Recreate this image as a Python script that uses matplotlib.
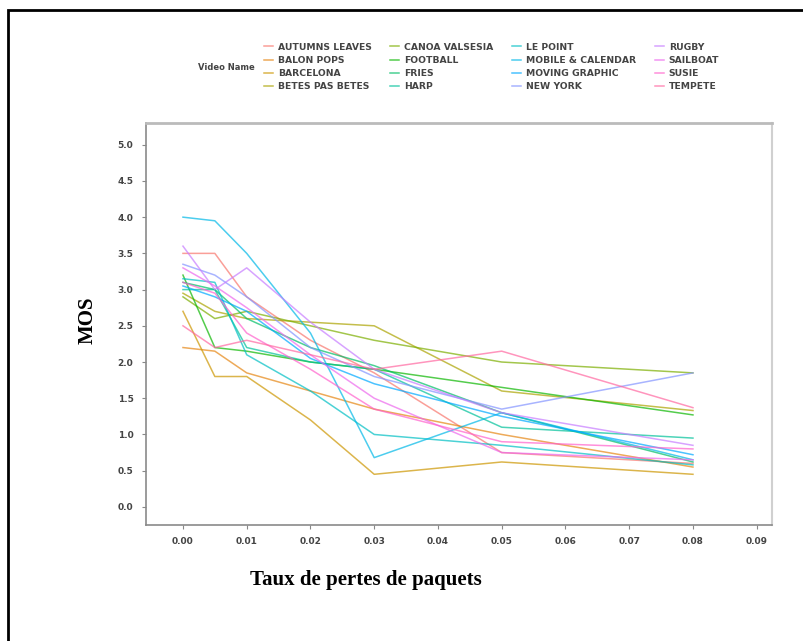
import numpy as np
import matplotlib
matplotlib.use("Agg")
import matplotlib.pyplot as plt
from matplotlib.patches import Rectangle

# packet loss rates where MOS was measured
loss = [0.0, 0.005, 0.01, 0.02, 0.03, 0.05, 0.08]

videos = [
    "AUTUMNS LEAVES", "BALON POPS", "BARCELONA", "BETES PAS BETES",
    "CANOA VALSESIA", "FOOTBALL", "FRIES", "HARP",
    "LE POINT", "MOBILE & CALENDAR", "MOVING GRAPHIC", "NEW YORK",
    "RUGBY", "SAILBOAT", "SUSIE", "TEMPETE",
]

mos_autumns = [3.50, 3.50, 2.90, 2.30, 1.85, 0.75, 0.60]
mos_balon = [2.20, 2.15, 1.85, 1.60, 1.35, 1.00, 0.55]
mos_barcelona = [2.70, 1.80, 1.80, 1.20, 0.45, 0.62, 0.45]
mos_betes = [2.95, 2.70, 2.60, 2.55, 2.50, 1.60, 1.33]
mos_canoa = [2.90, 2.60, 2.70, 2.50, 2.30, 2.00, 1.85]
mos_football = [3.20, 2.20, 2.15, 2.00, 1.90, 1.65, 1.27]
mos_fries = [3.10, 3.00, 2.60, 2.20, 1.95, 1.30, 0.62]
mos_harp = [3.00, 3.00, 2.20, 2.00, 1.90, 1.10, 0.95]
mos_lepoint = [3.15, 3.10, 2.10, 1.60, 1.00, 0.85, 0.58]
mos_mobile = [4.00, 3.95, 3.50, 2.40, 0.68, 1.30, 0.65]
mos_moving = [3.05, 2.90, 2.70, 2.05, 1.70, 1.25, 0.72]
mos_newyork = [3.35, 3.20, 2.90, 2.20, 1.80, 1.35, 1.85]
mos_rugby = [3.60, 3.00, 3.30, 2.55, 1.90, 1.30, 0.85]
mos_sailboat = [3.30, 3.05, 2.75, 2.10, 1.50, 0.75, 0.65]
mos_susie = [3.10, 2.95, 2.40, 1.90, 1.35, 0.90, 0.80]
mos_tempete = [2.50, 2.20, 2.30, 2.10, 1.90, 2.15, 1.37]

mos = [mos_autumns, mos_balon, mos_barcelona, mos_betes,
       mos_canoa, mos_football, mos_fries, mos_harp,
       mos_lepoint, mos_mobile, mos_moving, mos_newyork,
       mos_rugby, mos_sailboat, mos_susie, mos_tempete]

x_ticks = [0.0, 0.01, 0.02, 0.03, 0.04, 0.05, 0.06, 0.07, 0.08, 0.09]
y_ticks = [0.0, 0.5, 1.0, 1.5, 2.0, 2.5, 3.0, 3.5, 4.0, 4.5, 5.0]


def hcl_to_hex(h, c, l):
    # CIE LCh(uv) -> sRGB, same as the default ggplot hue palette
    xn, yn, zn = 95.047, 100.0, 108.883
    un = 4 * xn / (xn + 15 * yn + 3 * zn)
    vn = 9 * yn / (xn + 15 * yn + 3 * zn)
    hr = np.radians(h)
    u, v = c * np.cos(hr), c * np.sin(hr)
    y = yn * ((l + 16) / 116) ** 3 if l > 8 else yn * l / 903.3
    up = u / (13 * l) + un
    vp = v / (13 * l) + vn
    x = 9 * y * up / (4 * vp)
    z = -x / 3 - 5 * y + 3 * y / vp
    m = np.array([[3.2406, -1.5372, -0.4986],
                  [-0.9689, 1.8758, 0.0415],
                  [0.0557, -0.2040, 1.0570]])
    rgb = m @ (np.array([x, y, z]) / 100)
    rgb = np.where(rgb <= 0.0031308, 12.92 * rgb, 1.055 * np.abs(rgb) ** (1 / 2.4) - 0.055)
    rgb = np.clip(rgb, 0, 1)
    return "#%02x%02x%02x" % tuple(int(round(k * 255)) for k in rgb)


hues = np.linspace(15, 375, len(videos) + 1)[:-1]
colors = [hcl_to_hex(h, 100, 65) for h in hues]

fig = plt.figure(figsize=(8.04, 6.41), dpi=100)
ax = fig.add_axes([146 / 804, 1 - 525 / 641, (772 - 146) / 804, (525 - 123) / 641])

for name, vals, col in zip(videos, mos, colors):
    ax.plot(loss, vals, color=col, lw=1.1, alpha=0.7, label=name)

ax.set_xlim(-0.0058, 0.0924)
ax.set_ylim(-0.25, 5.3)
ax.set_xticks(x_ticks)
ax.set_xticklabels(["%.2f" % t for t in x_ticks])
ax.set_yticks(y_ticks)
ax.set_yticklabels(["%.1f" % t for t in y_ticks])
ax.tick_params(length=3, width=0.8, color="#888888", labelsize=6.5,
               labelcolor="#444444", pad=6)
for lab in ax.get_xticklabels() + ax.get_yticklabels():
    lab.set_fontweight("bold")

for side in ["left", "bottom"]:
    ax.spines[side].set_color("#8a8a8a")
    ax.spines[side].set_linewidth(1.2)
ax.spines["top"].set_color("#bbbbbb")
ax.spines["top"].set_linewidth(2.0)
ax.spines["right"].set_color("#d0d0d0")
ax.spines["right"].set_linewidth(1.5)

leg = fig.legend(loc="upper left", bbox_to_anchor=(260 / 804, 1 - 39 / 641),
                 ncol=4, frameon=False, fontsize=6.7, handlelength=1.0,
                 handletextpad=0.5, columnspacing=2.0, labelspacing=0.45,
                 borderaxespad=0)
for t in leg.get_texts():
    t.set_color("#444444")
    t.set_fontweight("bold")
fig.text(198 / 804, 1 - 68 / 641, "Video Name", fontsize=6.0, fontweight="bold",
         color="#444444", va="center")

fig.text(88 / 804, 1 - 320 / 641, "MOS", rotation=90, ha="center", va="center",
         family="Liberation Serif", fontweight="bold", fontsize=15)
fig.text(366 / 804, 1 - 580 / 641, "Taux de pertes de paquets", ha="center",
         va="center", family="Liberation Serif", fontweight="bold", fontsize=15)

# page frame around the figure
fig.patches.append(Rectangle((8 / 804, -0.05), 1.2, 1 - 10 / 641 + 0.05,
                             transform=fig.transFigure, fill=False,
                             edgecolor="black", lw=2))

fig.savefig("out.png", dpi=100)
